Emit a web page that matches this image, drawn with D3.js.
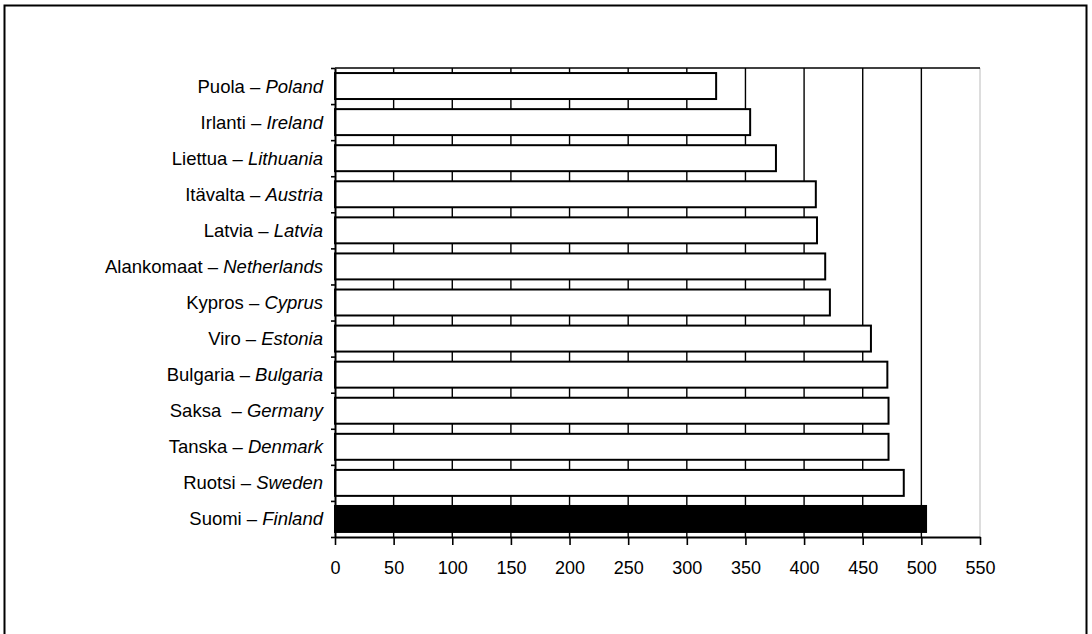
<!DOCTYPE html>
<html>
<head>
<meta charset="utf-8">
<script src="https://cdn.jsdelivr.net/npm/d3@7"></script>
<style>
  body { margin: 0; background: #fff; }
  text { font-family: "Liberation Sans", Arial, sans-serif; fill: #000; }
</style>
</head>
<body>
<svg id="chart"></svg>
<script>
// countries top -> bottom (Finnish name, English name)
const namesFi = ['Puola', 'Irlanti', 'Liettua', 'Itävalta', 'Latvia', 'Alankomaat', 'Kypros', 'Viro', 'Bulgaria', 'Saksa ', 'Tanska', 'Ruotsi', 'Suomi'];
const namesEn = ['Poland', 'Ireland', 'Lithuania', 'Austria', 'Latvia', 'Netherlands', 'Cyprus', 'Estonia', 'Bulgaria', 'Germany', 'Denmark', 'Sweden', 'Finland'];
const values = [325, 354, 376, 410, 411, 418, 422, 457, 471, 472, 472, 485, 504];
const xTicks = [0, 50, 100, 150, 200, 250, 300, 350, 400, 450, 500, 550];
const highlight = 'Finland';

const width = 1092, height = 634;
const margin = {top: 68, right: 112, bottom: 97, left: 335};

const svg = d3.select('#chart')
    .attr('width', width)
    .attr('height', height);

// outer frame (runs off the bottom of the picture)
svg.append('rect')
    .attr('x', 4.5).attr('y', 5.5)
    .attr('width', 1082).attr('height', 660)
    .attr('fill', 'none')
    .attr('stroke', '#000')
    .attr('stroke-width', 2);

const innerW = width - margin.left - margin.right;
const innerH = height - margin.top - margin.bottom;

const g = svg.append('g')
    .attr('transform', `translate(${margin.left},${margin.top})`);

const xScale = d3.scaleLinear()
    .domain([0, 550])
    .range([0, innerW]);

const yScale = d3.scaleBand()
    .domain(namesEn)
    .range([0, innerH])
    .paddingInner(0.28)
    .paddingOuter(0.14);

// band boundaries for the y axis ticks
const yEdge = d3.scaleLinear()
    .domain([0, namesEn.length])
    .range([0, innerH]);

// vertical gridlines
g.selectAll('.grid')
    .data(xTicks.slice(1))
    .join('line')
    .attr('class', 'grid')
    .attr('x1', d => xScale(d)).attr('x2', d => xScale(d))
    .attr('y1', 0).attr('y2', innerH)
    .attr('stroke', d => d === 550 ? '#bbb' : '#000')
    .attr('stroke-width', d => d === 550 ? 1 : 1.4);

// top line of plot area
g.append('line')
    .attr('x1', 0).attr('x2', xScale(550))
    .attr('y1', 0).attr('y2', 0)
    .attr('stroke', '#000')
    .attr('stroke-width', 1.6);

// bars
g.selectAll('.bar')
    .data(values)
    .join('rect')
    .attr('class', 'bar')
    .attr('x', 0)
    .attr('y', (d, i) => yScale(namesEn[i]))
    .attr('width', d => xScale(d))
    .attr('height', yScale.bandwidth())
    .attr('fill', (d, i) => namesEn[i] === highlight ? '#000' : '#fff')
    .attr('stroke', '#000')
    .attr('stroke-width', 2);

// x axis
const xAxis = d3.axisBottom(xScale)
    .tickValues(xTicks)
    .tickSize(8)
    .tickSizeOuter(0)
    .tickPadding(16);

const xAxisG = g.append('g')
    .attr('transform', `translate(0,${innerH})`)
    .call(xAxis);
xAxisG.select('.domain').attr('stroke-width', 2);
xAxisG.selectAll('.tick line').attr('stroke-width', 1.6);
xAxisG.selectAll('text')
    .attr('font-size', 18)
    .attr('font-family', '"Liberation Sans", Arial, sans-serif');

// y axis (ticks between bands, labels placed separately)
const yAxis = d3.axisLeft(yEdge)
    .tickValues(d3.range(namesEn.length + 1))
    .tickFormat('')
    .tickSize(4)
    .tickSizeOuter(0);

const yAxisG = g.append('g').call(yAxis);
yAxisG.select('.domain').attr('stroke-width', 2);
yAxisG.selectAll('.tick line').attr('stroke-width', 1.6);

// category labels: Finnish – English (italic)
const labels = g.selectAll('.label')
    .data(namesEn)
    .join('text')
    .attr('class', 'label')
    .attr('x', -12)
    .attr('y', d => yScale(d) + yScale.bandwidth() / 2)
    .attr('dy', '0.35em')
    .attr('text-anchor', 'end')
    .attr('font-size', 18.5)
    .style('white-space', 'pre');

labels.append('tspan')
    .text((d, i) => namesFi[i] + ' – ');
labels.append('tspan')
    .attr('font-style', 'italic')
    .text(d => d);
</script>
</body>
</html>
